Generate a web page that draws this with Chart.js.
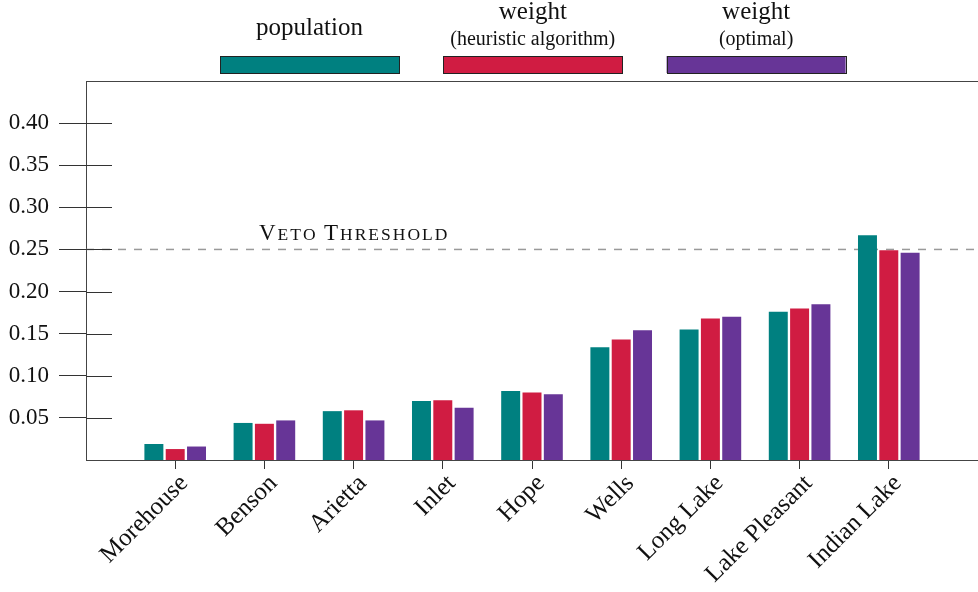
<!DOCTYPE html>
<html>
<head>
<meta charset="utf-8">
<script src="https://cdn.jsdelivr.net/npm/chart.js@4"></script>
<style>
  html, body { margin: 0; padding: 0; background: #fff; }
  #wrap { width: 978px; height: 592px; position: relative; }
</style>
</head>
<body>
<div id="wrap"><canvas id="c" width="978" height="592"></canvas></div>
<script>
const categories = ['Morehouse','Benson','Arietta','Inlet','Hope','Wells','Long Lake','Lake Pleasant','Indian Lake'];
const population      = [0.019, 0.044, 0.058, 0.070, 0.082, 0.134, 0.155, 0.176, 0.267];
const weightHeuristic = [0.013, 0.043, 0.059, 0.071, 0.080, 0.143, 0.168, 0.180, 0.249];
const weightOptimal   = [0.016, 0.047, 0.047, 0.062, 0.078, 0.154, 0.170, 0.185, 0.246];
const yTickValues = [0.05, 0.10, 0.15, 0.20, 0.25, 0.30, 0.35, 0.40];
const yMax = 0.45;
const vetoThreshold = 0.25;
const seriesNames = [['population'], ['weight', '(heuristic algorithm)'], ['weight', '(optimal)']];
const seriesColors = ['#008080', '#d01c42', '#673597'];

const SERIF = '"Liberation Serif", "DejaVu Serif", serif';

// pad categories with an empty slot on each side (axis spans -1 .. 9)
const labels = [''].concat(categories, ['']);
const pad = arr => [null].concat(arr, [null]);

const extrasPlugin = {
  id: 'extras',
  beforeDatasetsDraw(chart) {
    const { ctx, chartArea: a, scales: { y } } = chart;
    const yy = y.getPixelForValue(vetoThreshold);
    ctx.save();
    ctx.strokeStyle = '#9a9a9a';
    ctx.lineWidth = 1.5;
    ctx.setLineDash([8, 8]);
    ctx.beginPath();
    ctx.moveTo(a.left, yy);
    ctx.lineTo(a.right, yy);
    ctx.stroke();
    ctx.setLineDash([]);
    const parts = [['V', 23], ['ETO', 17.5], [' ', 17.5], ['T', 23], ['HRESHOLD', 17.5]];
    let x = 259;
    ctx.fillStyle = '#111';
    ctx.textBaseline = 'alphabetic';
    ctx.textAlign = 'left';
    for (const [txt, size] of parts) {
      ctx.font = size + 'px ' + SERIF;
      for (const ch of txt) {
        ctx.fillText(ch, x, yy - 9);
        x += ctx.measureText(ch).width + 2;
      }
    }
    ctx.strokeStyle = '#333';
    ctx.lineWidth = 1;
    for (const v of yTickValues) {
      const py = Math.round(y.getPixelForValue(v)) + 0.5;
      ctx.beginPath();
      ctx.moveTo(a.left, py);
      ctx.lineTo(a.left + 26, py);
      ctx.stroke();
    }
    ctx.restore();
  },
  afterDraw(chart) {
    const { ctx, chartArea: a } = chart;
    ctx.save();
    ctx.strokeStyle = '#444';
    ctx.lineWidth = 1;
    ctx.beginPath();
    ctx.moveTo(a.left, Math.round(a.top) + 0.5);
    ctx.lineTo(a.right, Math.round(a.top) + 0.5);
    ctx.stroke();
    const boxW = 179, boxH = 17, boxTop = 56, step = 223.3, x0 = 220;
    ctx.textAlign = 'center';
    ctx.textBaseline = 'alphabetic';
    seriesNames.forEach((lines, i) => {
      const bx = x0 + i * step;
      ctx.fillStyle = seriesColors[i];
      ctx.fillRect(bx, boxTop, boxW, boxH);
      ctx.strokeStyle = '#222';
      ctx.strokeRect(Math.round(bx) + 0.5, boxTop + 0.5, boxW, boxH);
      const cx = bx + boxW / 2;
      ctx.fillStyle = '#111';
      if (lines.length === 1) {
        ctx.font = '25px ' + SERIF;
        ctx.fillText(lines[0], cx, 35);
      } else {
        ctx.font = '25px ' + SERIF;
        ctx.fillText(lines[0], cx, 19);
        ctx.font = '20px ' + SERIF;
        ctx.fillText(lines[1], cx, 45);
      }
    });
    ctx.restore();
  }
};

new Chart(document.getElementById('c'), {
  type: 'bar',
  data: {
    labels: labels,
    datasets: [
      { label: 'population', data: pad(population), backgroundColor: seriesColors[0] },
      { label: 'weight (heuristic algorithm)', data: pad(weightHeuristic), backgroundColor: seriesColors[1] },
      { label: 'weight (optimal)', data: pad(weightOptimal), backgroundColor: seriesColors[2] }
    ]
  },
  options: {
    responsive: false,
    animation: false,
    events: [],
    datasets: { bar: { categoryPercentage: 0.717, barPercentage: 0.89, borderWidth: 0 } },
    layout: { padding: { top: 81, right: 0, left: 0, bottom: 0 } },
    plugins: { legend: { display: false }, tooltip: { enabled: false } },
    scales: {
      x: {
        offset: false,
        grid: {
          offset: false,
          drawOnChartArea: false,
          drawTicks: true,
          tickLength: 9,
          color: c => (c.index === 0 || c.index === labels.length - 1) ? 'rgba(0,0,0,0)' : '#333'
        },
        border: { display: true, color: '#444', width: 1 },
        ticks: {
          autoSkip: false,
          minRotation: 45,
          maxRotation: 45,
          padding: 0,
          labelOffset: 9,
          color: '#111',
          font: { family: SERIF, size: 25 }
        },
        afterFit: s => { s.height = 132; s.paddingLeft = 0; s.paddingRight = 0; }
      },
      y: {
        min: 0,
        max: yMax,
        grid: {
          drawOnChartArea: false,
          drawTicks: true,
          tickLength: 27,
          color: '#333'
        },
        border: { display: true, color: '#444', width: 1 },
        afterBuildTicks: s => { s.ticks = yTickValues.map(v => ({ value: v })); },
        ticks: {
          padding: 10,
          color: '#111',
          font: { family: SERIF, size: 23 },
          callback: v => Number(v).toFixed(2)
        },
        afterFit: s => { s.width = 86; s.paddingTop = 0; s.paddingBottom = 0; }
      }
    }
  },
  plugins: [extrasPlugin]
});
</script>
</body>
</html>
